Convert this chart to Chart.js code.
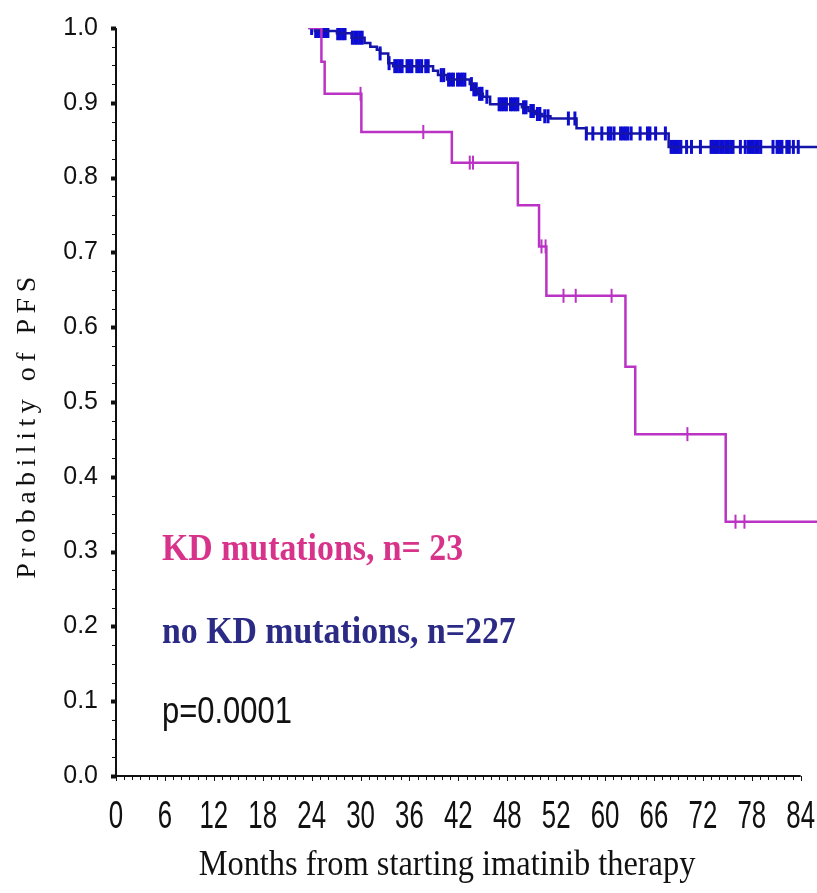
<!DOCTYPE html>
<html>
<head>
<meta charset="utf-8">
<script src="https://cdn.jsdelivr.net/npm/chart.js@4.4.1/dist/chart.umd.min.js"></script>
<style>
  html, body { margin: 0; padding: 0; background: #ffffff; }
  #wrap { width: 817px; height: 893px; }
</style>
</head>
<body>
<div id="wrap"><canvas id="pfs" width="817" height="893"></canvas></div>
<script>
// KAPLAN-MEIER DATA (MONTHS, PROBABILITY AFTER THE STEP)
var kdTimes = [23.6, 25.2, 25.6, 30.1, 41.2, 49.3, 51.9, 52.8, 62.5, 63.7, 74.8, 86];
var kdSurv = [1.0, 0.955, 0.912, 0.861, 0.820, 0.763, 0.708, 0.642, 0.547, 0.457, 0.340, 0.340];
var kdCensor = [30.0, 37.7, 43.4, 43.8, 52.2, 52.7, 54.9, 56.4, 60.8, 70.1, 76.0, 77.1];

var noKdTimes = [23.6, 24.4, 27.1, 28.9, 30.5, 31.2, 32.0, 32.4, 33.4, 34.0, 38.9, 39.5, 40.6,
    43.4, 43.9, 44.4, 45.0, 45.9, 49.8, 50.6, 51.4, 52.3, 53.3, 56.5, 57.7, 67.8, 86];
var noKdSurv = [1.0, 0.996, 0.993, 0.987, 0.980, 0.975, 0.971, 0.966, 0.953, 0.949, 0.943, 0.937, 0.931,
    0.925, 0.918, 0.912, 0.908, 0.898, 0.894, 0.889, 0.885, 0.882, 0.879, 0.866, 0.859, 0.841, 0.841];
var noKdCensor = [24.0, 24.5, 24.8, 25.1, 25.4, 25.7, 26.0, 27.2, 27.5, 27.8, 28.1,
    29.0, 29.3, 29.6, 29.9, 30.2, 32.4, 33.5,
    34.2, 34.5, 34.8, 35.1, 35.7, 36.0, 36.3, 36.9, 37.2, 37.5, 38.0, 38.3,
    39.9, 40.2, 40.8, 41.1, 41.4, 41.9, 42.2, 42.5, 42.8,
    43.6, 43.9, 44.2, 44.6, 44.9, 45.5,
    47.0, 47.3, 47.6, 47.9, 48.4, 48.7, 49.0, 49.3,
    50.0, 50.3, 50.9, 51.2, 51.7, 52.0, 52.6, 53.0,
    55.5, 56.3, 57.7, 58.5, 59.6, 60.4, 60.7, 61.1, 61.9, 62.2, 62.5, 62.8, 63.2,
    64.3, 65.2, 65.5, 66.2, 67.4, 68.1, 68.4, 68.7, 69.0, 69.3,
    70.0, 70.6, 71.7, 73.0, 73.3, 73.6, 73.9, 74.2, 74.5, 74.8, 75.1, 75.4, 75.7,
    76.6, 77.2, 77.6, 77.9, 78.2, 78.5, 78.8, 79.1,
    80.6, 81.1, 81.4, 81.7, 82.3, 82.6, 83.1, 83.7];

// TICK LABELS (THE ORIGINAL PRINTS 52 WHERE 54 SHOULD BE)
var xTickValues = [0, 6, 12, 18, 24, 30, 36, 42, 48, 54, 60, 66, 72, 78, 84];
var xTickLabels = ["0", "6", "12", "18", "24", "30", "36", "42", "48", "52", "60", "66", "72", "78", "84"];

var magenta = "#bb33c4";
var blue = "#0c0cd2";

//ARMA LOS PUNTOS DE LA CURVA ESCALONADA
function stepPoints(times, surv) {
    var pts = [];
    for (var i = 0; i < times.length; i++) {
        pts.push({ x: times[i], y: surv[i] });
    }
    return pts;
}

//NIVEL DE LA CURVA EN EL TIEMPO DE CENSURA
function censorPoints(times, surv, censor) {
    var pts = [];
    for (var c = 0; c < censor.length; c++) {
        var level = surv[0];
        for (var i = 0; i < times.length; i++) {
            if (times[i] <= censor[c]) level = surv[i];
        }
        pts.push({ x: censor[c], y: level });
    }
    return pts;
}

//TEXTO ANGOSTO (ESCALA HORIZONTAL)
function narrowText(ctx, text, x, y, sx, align) {
    ctx.save();
    ctx.translate(x, y);
    ctx.scale(sx, 1);
    ctx.textAlign = align;
    ctx.fillText(text, 0, 0);
    ctx.restore();
}

// AXES, MINOR TICKS AND TEXT DRAWN FROM THE SCALES
var decorPlugin = {
    id: "decor",
    beforeDatasetsDraw: function (chart) {
        var ctx = chart.ctx;
        var xs = chart.scales.x, ys = chart.scales.y;
        var x0 = xs.getPixelForValue(0), x84 = xs.getPixelForValue(84);
        var y0 = ys.getPixelForValue(0), y1 = ys.getPixelForValue(1);
        ctx.save();
        ctx.strokeStyle = "#111";
        ctx.fillStyle = "#111";
        ctx.lineWidth = 2;
        ctx.beginPath();
        ctx.moveTo(x0, y1);
        ctx.lineTo(x0, y0);
        ctx.lineTo(x84, y0);
        ctx.stroke();

        ctx.lineWidth = 1;
        for (var i = 0; i <= 40; i++) {
            var py = Math.round(ys.getPixelForValue(i / 40)) + 0.5;
            if (i % 4 === 0) {
                ctx.fillRect(x0 - 5, py - 2, 5, 4);
            } else {
                ctx.beginPath();
                ctx.moveTo(x0 - 4, py);
                ctx.lineTo(x0, py);
                ctx.stroke();
            }
        }
        for (var m = 0; m <= 84; m++) {
            var px = Math.round(xs.getPixelForValue(m)) + 0.5;
            ctx.beginPath();
            ctx.moveTo(px, y0);
            ctx.lineTo(px, y0 + (m % 6 === 0 ? 5 : 4));
            ctx.stroke();
        }

        // X TICK LABELS (CONDENSED)
        ctx.font = "38px 'Liberation Sans', sans-serif";
        ctx.textBaseline = "middle";
        for (var k = 0; k < xTickValues.length; k++) {
            narrowText(ctx, xTickLabels[k], xs.getPixelForValue(xTickValues[k]), 818, 0.68, "center");
        }
        ctx.restore();
    },
    afterDraw: function (chart) {
        var ctx = chart.ctx;
        ctx.save();
        // Y TITLE
        ctx.translate(28, 425);
        ctx.rotate(-Math.PI / 2);
        ctx.fillStyle = "#111";
        ctx.font = "28px 'Liberation Serif', serif";
        ctx.letterSpacing = "5.5px";
        ctx.textAlign = "center";
        ctx.textBaseline = "middle";
        ctx.fillText("Probability of PFS", 0, 0);
        ctx.restore();

        ctx.save();
        ctx.fillStyle = "#111";
        ctx.textBaseline = "middle";
        ctx.font = "36px 'Liberation Serif', serif";
        narrowText(ctx, "Months from starting imatinib therapy", 447, 866, 0.9, "center");

        ctx.font = "bold 38px 'Liberation Serif', serif";
        ctx.fillStyle = "#d8338a";
        narrowText(ctx, "KD mutations, n= 23", 162, 550, 0.89, "left");
        ctx.fillStyle = "#2b2b86";
        narrowText(ctx, "no KD mutations, n=227", 162, 633, 0.89, "left");
        ctx.fillStyle = "#111";
        ctx.font = "36px 'Liberation Sans', sans-serif";
        narrowText(ctx, "p=0.0001", 162, 713, 0.86, "left");
        ctx.restore();
    }
};

new Chart(document.getElementById("pfs").getContext("2d"), {
    type: "scatter",
    data: {
        datasets: [
            {
                type: "line",
                data: stepPoints(kdTimes, kdSurv),
                stepped: true,
                borderColor: magenta,
                borderWidth: 2.5,
                pointRadius: 0,
                fill: false
            },
            {
                type: "line",
                data: stepPoints(noKdTimes, noKdSurv),
                stepped: true,
                borderColor: "#1414a8",
                borderWidth: 2.5,
                pointRadius: 0,
                fill: false
            },
            {
                data: censorPoints(kdTimes, kdSurv, kdCensor),
                pointStyle: "line",
                rotation: 90,
                pointRadius: 7,
                borderWidth: 2,
                borderColor: magenta
            },
            {
                data: censorPoints(noKdTimes, noKdSurv, noKdCensor),
                pointStyle: "line",
                rotation: 90,
                pointRadius: 7,
                borderWidth: 3,
                borderColor: blue
            }
        ]
    },
    plugins: [decorPlugin],
    options: {
        responsive: false,
        animation: false,
        layout: { autoPadding: false, padding: { top: 28, right: 0, left: 0, bottom: 0 } },
        plugins: { legend: { display: false }, tooltip: { enabled: false } },
        scales: {
            x: {
                type: "linear",
                min: 0,
                max: 86,
                grid: { display: false, drawTicks: false },
                border: { display: false },
                afterFit: function (scale) {
                    scale.height = 117;
                    scale.paddingLeft = 0;
                    scale.paddingRight = 0;
                },
                ticks: { display: false }
            },
            y: {
                min: 0,
                max: 1,
                grid: { display: false, drawTicks: false },
                border: { display: false },
                afterFit: function (scale) {
                    scale.width = 116;
                    scale.paddingTop = 0;
                    scale.paddingBottom = 0;
                },
                ticks: {
                    stepSize: 0.1,
                    padding: 18,
                    color: "#111",
                    font: { family: "'Liberation Sans', sans-serif", size: 25 },
                    callback: function (v) { return v.toFixed(1); }
                }
            }
        }
    }
});
</script>
</body>
</html>
